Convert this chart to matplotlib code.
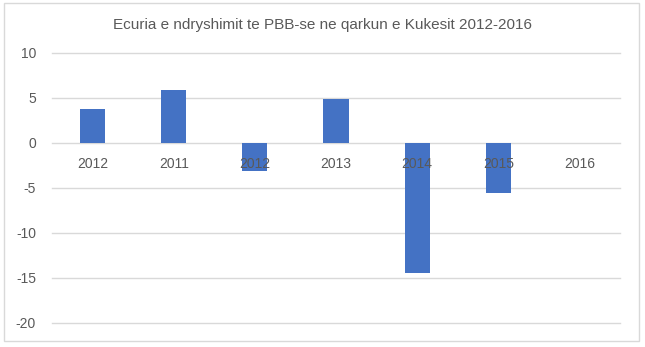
import matplotlib.pyplot as plt
from matplotlib.patches import Rectangle

# te dhenat
years = ["2012", "2011", "2012", "2013", "2014", "2015", "2016"]
change = [3.8, 5.9, -3.1, 4.9, -14.5, -5.6, 0]
yticks = [10, 5, 0, -5, -10, -15, -20]

plt.rcParams['font.family'] = ['Liberation Sans', 'DejaVu Sans']

fig = plt.figure(figsize=(6.45, 3.47), dpi=100)
ax = fig.add_axes([0.0806, 0.0692, 0.8806, 0.7781])

x = range(len(years))
ax.bar(x, change, width=0.31, color='#4472C4', zorder=2)

ax.set_xlim(-0.5, len(years) - 0.5)
ax.set_ylim(-20, 10)
ax.set_yticks(yticks)
ax.set_yticklabels([str(v) for v in yticks])
ax.set_axisbelow(True)
ax.yaxis.grid(True, color='#D9D9D9', linewidth=1)
for gl in ax.yaxis.get_gridlines():
    gl.set_clip_on(False)

ax.set_xticks(list(x))
ax.set_xticklabels(years)
ax.spines['bottom'].set_position(('data', 0))
ax.xaxis.set_zorder(5)
for s in ax.spines.values():
    s.set_visible(False)
ax.tick_params(axis='x', length=0, pad=10, labelsize=10, labelcolor='#595959')
ax.tick_params(axis='y', length=0, pad=11.5, labelsize=10, labelcolor='#595959')

fig.text(0.5, 0.928, "Ecuria e ndryshimit te PBB-se ne qarkun e Kukesit 2012-2016",
         ha='center', va='center', fontsize=11, color='#595959')

# kuadri rreth grafikut
fig.patches.append(Rectangle((4 / 645, 6 / 347), 635 / 645, 338 / 347,
                             transform=fig.transFigure, fill=False,
                             edgecolor='#D9D9D9', linewidth=1))

fig.savefig('out.png', dpi=100)
